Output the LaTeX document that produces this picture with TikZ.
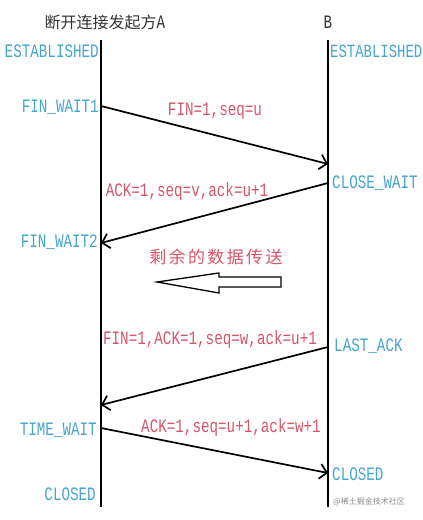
\documentclass[tikz,border=0pt]{standalone}
\usepackage{fontspec}
\usepackage{xcolor}
\usepackage{tikz}
\usetikzlibrary{arrows.meta}
\newfontfamily\tcpmono[FakeStretch=0.75]{Liberation Mono}
\newfontfamily\tcpcjk{Noto Sans CJK SC}
\newfontfamily\tcpcjkwide[LetterSpace=14]{Noto Sans CJK SC}
\definecolor{statecol}{RGB}{70,165,205}
\definecolor{msgcol}{RGB}{215,85,105}

\begin{document}
\begin{tikzpicture}[x=1pt, y=-1pt,
    state/.style={inner sep=0pt, text=statecol, font=\tcpmono\fontsize{19}{19}\selectfont},
    msg/.style={inner sep=0pt, text=msgcol, font=\tcpmono\fontsize{19}{19}\selectfont},
    head/.style={inner sep=0pt, text=black!80, font=\fontsize{16}{16}\selectfont},
    life/.style={line width=1.3pt},
    seg/.style={line width=1.7pt, -{Straight Barb[length=7pt,width=15pt]}}
]
\clip (0,0) rectangle (423,520);
\fill[white] (0,0) rectangle (423,520);

% hosts
\node[head] (hostA) at (105,22) {\tcpcjk 断开连接发起方\tcpmono\fontsize{19}{19}\selectfont A};
\node[head] (hostB) at (328,22) {\tcpmono\fontsize{19}{19}\selectfont B};

% life lines
\coordinate (aTop) at (101,40);
\coordinate (aBot) at (101,507);
\coordinate (bTop) at (328,40);
\coordinate (bBot) at (328,507);
\draw[life] (aTop) -- (aBot);
\draw[life] (bTop) -- (bBot);

% states of A
\node[state, anchor=east] (estA) at (99,51) {ESTABLISHED};
\node[state, anchor=east] (fw1) at (99,107) {FIN\_WAIT1};
\node[state, anchor=east] (fw2) at (98,242) {FIN\_WAIT2};
\node[state, anchor=east] (tw) at (97,430) {TIME\_WAIT};
\node[state, anchor=east] (closedA) at (96,494) {CLOSED};

% states of B
\node[state, anchor=west, font=\tcpmono\fontsize{18.6}{19}\selectfont] (estB) at (330,51) {ESTABLISHED};
\node[state, anchor=west] (cw) at (332,183) {CLOSE\_WAIT};
\node[state, anchor=west] (lack) at (334,346) {LAST\_ACK};
\node[state, anchor=west] (closedB) at (332,474) {CLOSED};

% segments
\coordinate (a1) at (101,106);
\coordinate (b1) at (328,164);
\coordinate (b2) at (328,183);
\coordinate (a2) at (101,243);
\coordinate (b3) at (328,347);
\coordinate (a3) at (101,405);
\coordinate (a4) at (101,428);
\coordinate (b4) at (328,473);
\draw[seg] (a1) -- (b1);
\draw[seg] (b2) -- (a2);
\draw[seg] (b3) -- (a3);
\draw[seg] (a4) -- (b4);

\node[msg] (m1) at (215,111) {FIN=1,seq=u};
\node[msg] (m2) at (187,192) {ACK=1,seq=v,ack=u+1};
\node[msg] (m3) at (210,340) {FIN=1,ACK=1,seq=w,ack=u+1};
\node[msg] (m4) at (231,428) {ACK=1,seq=u+1,ack=w+1};

% remaining data
\node[msg, font=\tcpcjkwide\fontsize{17}{17}\selectfont] (rest) at (216,257) {剩余的数据传送};
\draw[line width=1.3pt, line join=miter] (157,282) -- (219,273) -- (219,277) -- (281,277)
    -- (281,287) -- (219,287) -- (219,293) -- cycle;

\node[inner sep=0pt, text=black!45, font=\tcpcjk\fontsize{8}{8}\selectfont] (mark) at (369,502) {@稀土掘金技术社区};
\end{tikzpicture}
\end{document}
